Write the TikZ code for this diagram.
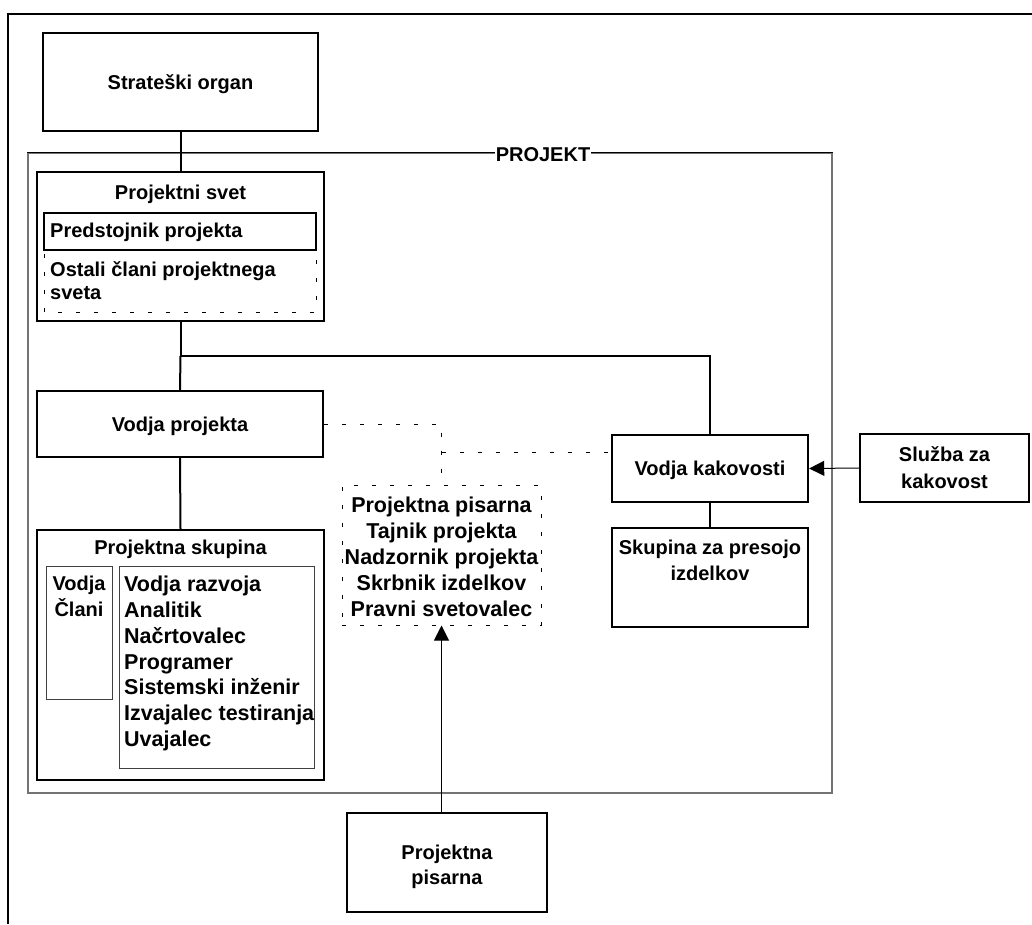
\documentclass[tikz,border=0pt]{standalone}
\usepackage{fontspec}
\setmainfont{Liberation Sans}
\usetikzlibrary{arrows.meta}
\begin{document}
\begin{tikzpicture}[x=1pt,y=-1pt,
  lbl/.style={font=\fontsize{20}{25.8}\selectfont\bfseries, inner sep=0pt},
  listlbl/.style={lbl, font=\fontsize{21.5}{25.9}\selectfont\bfseries},
  oneline/.style={lbl, text height=14.3pt, text depth=0pt},
  box/.style={draw, line width=2.4pt, inner sep=0pt},
  thinbox/.style={draw=black!75, line width=1pt, inner sep=0pt},
  dashbox/.style={draw, line width=1pt, dash pattern=on 4pt off 14pt, inner sep=0pt},
  dashline/.style={line width=1pt, dash pattern=on 4pt off 14pt},
  link/.style={line width=2pt},
  feed/.style={line width=1pt, -{Triangle[length=15pt,width=15pt]}},
]
\useasboundingbox (0,0) rectangle (1032,924);

% outer border
\draw[line width=2.2pt] (8,924) -- (8,14) -- (1032,14);

% project frame
\node[draw=black!55, line width=1.5pt, minimum width=804, minimum height=640, inner sep=0pt] (proj) at (430,473) {};
\draw[line width=1pt] (proj.north west) -- (proj.north east);
\node[oneline, fill=white, inner xsep=1pt] (projlbl) at (543,154) {PROJEKT};

% steering
\node[box, oneline, minimum width=275, minimum height=98] (so) at (180.5,82) {Strateški organ};

% project board
\node[box, minimum width=287, minimum height=149] (svet) at (180.5,246.5) {};
\node[oneline] (svett) at (180.5,192) {Projektni svet};
\node[box, minimum width=272, minimum height=37] (pred) at (180,231.5) {};
\node[oneline, anchor=west] (predt) at (50,230) {Predstojnik projekta};
\draw[dashline] (44,254) -- (44,312) -- (316,312) -- (316,254);
\node[lbl, align=left, anchor=west, font=\fontsize{20}{23}\selectfont\bfseries] (ost) at (50,280.3) {Ostali člani projektnega\\sveta};

% project manager
\node[box, oneline, minimum width=286, minimum height=66] (vp) at (180,424) {Vodja projekta};

% project team
\node[box, minimum width=287, minimum height=250] (ps) at (180.5,655) {};
\node[oneline] (pst) at (180.5,547) {Projektna skupina};
\node[thinbox, minimum width=66, minimum height=133] (vc) at (79,632.5) {};
\node[lbl, align=center, font=\fontsize{20}{26}\selectfont\bfseries] (vct) at (79,596) {Vodja\\Člani};
\node[thinbox, minimum width=195, minimum height=202] (roles) at (216.5,667) {};
\node[listlbl, align=left, anchor=west] (rolest) at (124,663.5) {Vodja razvoja\\Analitik\\Načrtovalec\\Programer\\Sistemski inženir\\Izvajalec testiranja\\Uvajalec};

% project office (inside)
\node[dashbox, minimum width=199, minimum height=140] (pp) at (441.5,555) {};
\node[listlbl, align=center] (ppt) at (441.5,557) {Projektna pisarna\\Tajnik projekta\\Nadzornik projekta\\Skrbnik izdelkov\\Pravni svetovalec};

% quality
\node[box, oneline, minimum width=196, minimum height=67] (vk) at (710,468.5) {Vodja kakovosti};
\node[box, minimum width=196, minimum height=99] (sp) at (710,577.5) {};
\node[lbl, align=center, font=\fontsize{20}{26}\selectfont\bfseries] (spt) at (710,560) {Skupina za presojo\\izdelkov};
\node[box, lbl, align=center, font=\fontsize{20}{27}\selectfont\bfseries, minimum width=169, minimum height=68] (sk) at (944.5,468) {Služba za\\kakovost};

% project office (outside)
\node[box, minimum width=200, minimum height=99] (pis) at (447,862.5) {};
\node[lbl, align=center, font=\fontsize{20}{25}\selectfont\bfseries] (pist) at (447,866.5) {Projektna\\pisarna};

% connectors
\coordinate (j) at (180.5,356);
\draw[link] (so.south) -- (svet.north);
\draw[link] (svet.south) -- (j) -| (vk.north);
\draw[link] (j) -- (vp.north);
\draw[link] (vp.south) -- (ps.north);
\draw[link] (vk.south) -- (sp.north);
\draw[feed] (sk.west) -- (vk.east);
\draw[feed] (pp.south |- pis.north) -- (pp.south);

% dashed links to the project office
\coordinate (d1) at (pp.north |- vp.east);
\draw[dashline] (vp.east) -- (d1) -- (pp.north);
\coordinate (d2) at (441.5,452);
\draw[dashline] (d2) -- (d2 -| vk.west);
\end{tikzpicture}
\end{document}
